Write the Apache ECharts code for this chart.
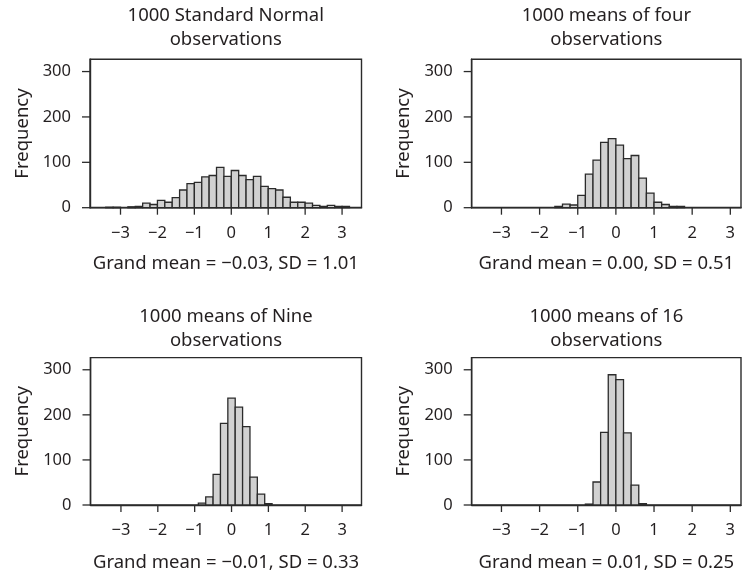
<!DOCTYPE html>
<html>
<head>
<meta charset="utf-8">
<script src="https://cdn.jsdelivr.net/npm/echarts@6/dist/echarts.min.js"></script>
<style>
  html, body { margin: 0; padding: 0; background: #fff; }
  #chart { width: 744px; height: 573px; }
</style>
</head>
<body>
<div id="chart"></div>
<script>
// Histogram bin width shared by all four panels
const binWidth = 0.2;

// Panel A: 1000 standard normal observations (left bin edges and counts)
const edgesA = [-3.4, -3.2, -3.0, -2.8, -2.6, -2.4, -2.2, -2.0, -1.8, -1.6, -1.4, -1.2, -1.0, -0.8, -0.6, -0.4, -0.2,
                0.0, 0.2, 0.4, 0.6, 0.8, 1.0, 1.2, 1.4, 1.6, 1.8, 2.0, 2.2, 2.4, 2.6, 2.8, 3.0];
const countsA = [1, 1, 0, 2, 3, 10, 7, 16, 12, 22, 39, 53, 56, 68, 71, 89, 69,
                 82, 71, 62, 69, 47, 42, 39, 23, 12, 12, 10, 5, 3, 5, 3, 3];

// Panel B: 1000 means of four observations
const edgesB = [-1.6, -1.4, -1.2, -1.0, -0.8, -0.6, -0.4, -0.2, 0.0, 0.2, 0.4, 0.6, 0.8, 1.0, 1.2, 1.4, 1.6];
const countsB = [3, 8, 6, 27, 74, 105, 144, 152, 138, 108, 115, 65, 32, 12, 7, 3, 3];

// Panel C: 1000 means of nine observations
const edgesC = [-0.9, -0.7, -0.5, -0.3, -0.1, 0.1, 0.3, 0.5, 0.7, 0.9];
const countsC = [4, 18, 68, 181, 237, 217, 174, 62, 24, 3];

// Panel D: 1000 means of 16 observations
const edgesD = [-0.8, -0.6, -0.4, -0.2, 0.0, 0.2, 0.4, 0.6];
const countsD = [2, 51, 161, 289, 278, 160, 44, 3];

// Titles and summary captions
const titles = [
  '1000 Standard Normal\nobservations',
  '1000 means of four\nobservations',
  '1000 means of Nine\nobservations',
  '1000 means of 16\nobservations'
];
const captions = [
  'Grand mean = \u22120.03, SD = 1.01',
  'Grand mean = 0.00, SD = 0.51',
  'Grand mean = \u22120.01, SD = 0.33',
  'Grand mean = 0.01, SD = 0.25'
];
const xTicks = [-3, -2, -1, 0, 1, 2, 3];
const yTicks = [0, 100, 200, 300];

const FONT = 'Noto Sans';
const INK = '#231f20';
const LINE = '#2b2b2b';
const X_TICK_LEN = 7;
const Y_TICK_LEN = 8;

const panels = [
  { edges: edgesA, counts: countsA, left: 90,    top: 59.3,  width: 271.5, height: 148.4, xMin: -3.826, xMax: 3.526, titleTop: 3.5,   nameGap: 47 },
  { edges: edgesB, counts: countsB, left: 471.7, top: 59.3,  width: 269.3, height: 148.4, xMin: -3.78,  xMax: 3.28,  titleTop: 3.5,   nameGap: 47 },
  { edges: edgesC, counts: countsC, left: 90.5,  top: 357.6, width: 271,   height: 148.1, xMin: -3.826, xMax: 3.526, titleTop: 304.5, nameGap: 48 },
  { edges: edgesD, counts: countsD, left: 471.7, top: 357.6, width: 269.3, height: 148.1, xMin: -3.78,  xMax: 3.28,  titleTop: 304.5, nameGap: 48 }
];

// One outlined rectangle per histogram bin
function renderBin(params, api) {
  const count = api.value(1);
  if (!count) return null;
  const lo = api.value(0);
  const p0 = api.coord([lo, 0]);
  const p1 = api.coord([lo + binWidth, count]);
  return {
    type: 'rect',
    shape: { x: p0[0], y: p1[1], width: p1[0] - p0[0], height: p0[1] - p1[1] },
    style: { fill: '#d1d1d1', stroke: LINE, lineWidth: 1.3 }
  };
}

const grid = [], xAxis = [], yAxis = [], series = [], title = [];
panels.forEach((p, i) => {
  grid.push({
    left: p.left, top: p.top, width: p.width, height: p.height,
    show: true, borderColor: LINE, borderWidth: 1.4
  });
  xAxis.push({
    type: 'value', gridIndex: i, min: p.xMin, max: p.xMax,
    name: captions[i], nameLocation: 'middle', nameGap: p.nameGap,
    nameTextStyle: { fontFamily: FONT, fontSize: 18.5, color: INK },
    axisLine: { show: true, onZero: false, lineStyle: { color: LINE, width: 1.4 } },
    axisTick: { show: false },
    axisLabel: {
      customValues: xTicks, margin: 17, fontFamily: FONT, fontSize: 16.5, color: INK,
      formatter: v => String(v).replace('-', '\u2212')
    },
    splitLine: { show: false }
  });
  yAxis.push({
    type: 'value', gridIndex: i, min: 0, max: 327,
    name: 'Frequency', nameLocation: 'middle', nameGap: 58,
    nameTextStyle: { fontFamily: FONT, fontSize: 18.5, color: INK },
    axisLine: { show: true, onZero: false, lineStyle: { color: LINE, width: 1.4 } },
    axisTick: { show: false },
    axisLabel: { customValues: yTicks, margin: 19, fontFamily: FONT, fontSize: 16.5, color: INK },
    splitLine: { show: false }
  });
  series.push({
    type: 'custom', xAxisIndex: i, yAxisIndex: i,
    renderItem: renderBin,
    data: p.edges.map((e, k) => [e, p.counts[k]])
  });
  title.push({
    text: titles[i], left: p.left + p.width / 2, top: p.titleTop,
    textAlign: 'center', padding: 0,
    textStyle: { fontFamily: FONT, fontSize: 18.5, fontWeight: 'normal', color: INK, lineHeight: 24 }
  });
});

const chart = echarts.init(document.getElementById('chart'));
chart.setOption({ animation: false, backgroundColor: '#fff', title, grid, xAxis, yAxis, series });

// Outward tick marks at the labelled values, placed through each grid's own scales
const tickMarks = [];
panels.forEach((p, i) => {
  xTicks.forEach(v => {
    const pt = chart.convertToPixel({ gridIndex: i }, [v, 0]);
    tickMarks.push({
      type: 'line', silent: true, z: 10,
      shape: { x1: pt[0], y1: pt[1], x2: pt[0], y2: pt[1] + X_TICK_LEN },
      style: { stroke: LINE, lineWidth: 1.3 }
    });
  });
  yTicks.forEach(v => {
    const pt = chart.convertToPixel({ gridIndex: i }, [p.xMin, v]);
    tickMarks.push({
      type: 'line', silent: true, z: 10,
      shape: { x1: pt[0], y1: pt[1], x2: pt[0] - Y_TICK_LEN, y2: pt[1] },
      style: { stroke: LINE, lineWidth: 1.3 }
    });
  });
});
chart.setOption({ graphic: tickMarks });
</script>
</body>
</html>
